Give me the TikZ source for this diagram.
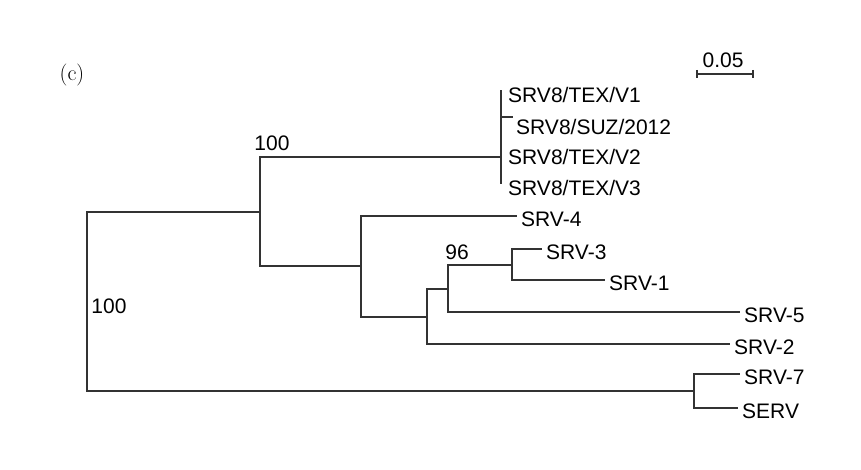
\documentclass[tikz,border=0pt]{standalone}
\usepackage{fontspec}
\newfontfamily\treefont{Liberation Sans}
\usetikzlibrary{positioning}
\tikzset{
  branch/.style={line width=1.6pt,black!80},
  leaf/.style={font=\treefont\fontsize{21}{24}\selectfont,inner sep=0pt,text height=15pt,text depth=0pt,anchor=west},
  boot/.style={font=\treefont\fontsize{21}{24}\selectfont,inner sep=0pt,text height=15pt,text depth=0pt}
}
\begin{document}
\begin{tikzpicture}[x=1pt,y=-1pt]
    \useasboundingbox (0,0) rectangle (861,470);
    % internal nodes
    \coordinate (root) at (87,301);
    \coordinate (A) at (260,212);
    \coordinate (S) at (501,157);
    \coordinate (B) at (361,266);
    \coordinate (C) at (427,317);
    \coordinate (D) at (448,289);
    \coordinate (E) at (512,265);
    \coordinate (F) at (694,391);
    % tips
    \coordinate (v1) at (501,90);
    \coordinate (suz) at (513,117);
    \coordinate (v3) at (501,184);
    \coordinate (srv4) at (517,216);
    \coordinate (srv3) at (542,249);
    \coordinate (srv1) at (605,280);
    \coordinate (srv5) at (740,312);
    \coordinate (srv2) at (730,344);
    \coordinate (srv7) at (740,374);
    \coordinate (serv) at (738,408);
    % branches
    \foreach \p/\c in {root/A,root/F,A/S,A/B,B/srv4,B/C,C/D,C/srv2,D/E,D/srv5,
                       E/srv3,E/srv1,F/srv7,F/serv,S/v1,S/v3,S/suz}
        \draw[branch] (\p) |- (\c);
    % leaf labels
    \node[leaf] (lv1) at (508,95) {SRV8/TEX/V1};
    \node[leaf] (lsuz) at (516,127) {SRV8/SUZ/2012};
    \node[leaf] (lv2) at (508,157) {SRV8/TEX/V2};
    \node[leaf] (lv3) at (508,188) {SRV8/TEX/V3};
    \foreach \t/\n in {srv4/SRV-4,srv3/SRV-3,srv1/SRV-1,srv5/SRV-5,srv2/SRV-2,srv7/SRV-7,serv/SERV}
        \node[leaf,right=4pt of \t,yshift=-3pt] (l\t) {\n};
    % bootstrap values
    \node[boot] (b1) at (272,143) {100};
    \node[boot] (b2) at (109,306) {100};
    \node[boot] (b3) at (457,252) {96};
    % scale bar
    \coordinate (s0) at (697,74);
    \coordinate (s1) at (753,74);
    \draw[branch,line width=1.3pt] (s0) -- (s1);
    \draw[branch,line width=1.3pt] ([yshift=4pt]s0) -- ([yshift=-4pt]s0);
    \draw[branch,line width=1.3pt] ([yshift=4pt]s1) -- ([yshift=-4pt]s1);
    \node[boot] (scale) at (723,60) {0.05};
    \node[font=\fontsize{22}{26}\selectfont,inner sep=0pt] (tag) at (72,75) {(c)};
\end{tikzpicture}
\end{document}
